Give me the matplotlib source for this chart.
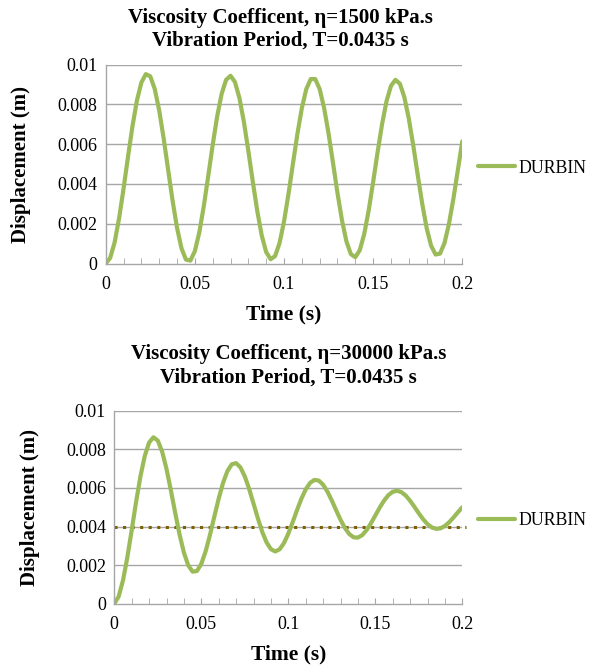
import numpy as np
import matplotlib
matplotlib.use("Agg")
import matplotlib.pyplot as plt

plt.rcParams['font.family'] = ['Liberation Serif', 'DejaVu Serif']

# sample times (s), one value every 0.0025 s
time_s = np.round(np.arange(81) * 0.0025, 4)

# eta = 1500 kPa.s  (m)
disp_1500 = [
    0.0, 0.000276, 0.001063, 0.002269, 0.003758, 0.005361, 0.006897, 0.008193, 0.009103, 0.009526,
    0.009414, 0.008782, 0.007701, 0.006297, 0.004726, 0.003167, 0.001797, 0.000767, 0.000197, 0.000146,
    0.000621, 0.001567, 0.002875, 0.004397, 0.005961, 0.007390, 0.008524, 0.009235, 0.009444, 0.009128,
    0.008324, 0.007125, 0.005667, 0.004113, 0.002642, 0.001415, 0.000576, 0.000215, 0.000372, 0.001028,
    0.002108, 0.003489, 0.005015, 0.006513, 0.007814, 0.008772, 0.009279, 0.009280, 0.008775, 0.007822,
    0.006532, 0.005049, 0.003541, 0.002179, 0.001115, 0.000471, 0.000317, 0.000669, 0.001486, 0.002675,
    0.004101, 0.005602, 0.007009, 0.008164, 0.008936, 0.009239, 0.009041, 0.008364, 0.007288, 0.005933,
    0.004453, 0.003017, 0.001785, 0.000896, 0.000451, 0.000497, 0.001028, 0.001984, 0.003255, 0.004697,
    0.006147,
]

# eta = 30000 kPa.s
disp_30000 = [
    0.0, 0.000370, 0.001210, 0.002407, 0.003812, 0.005259, 0.006588, 0.007654, 0.008353, 0.008622,
    0.008450, 0.007877, 0.006983, 0.005882, 0.004706, 0.003587, 0.002648, 0.001985, 0.001660, 0.001693,
    0.002064, 0.002718, 0.003570, 0.004516, 0.005447, 0.006261, 0.006872, 0.007222, 0.007283, 0.007062,
    0.006594, 0.005944, 0.005192, 0.004425, 0.003729, 0.003178, 0.002827, 0.002706, 0.002818, 0.003141,
    0.003629, 0.004221, 0.004847, 0.005435, 0.005922, 0.006259, 0.006414, 0.006380, 0.006166, 0.005807,
    0.005347, 0.004843, 0.004351, 0.003927, 0.003614, 0.003441, 0.003424, 0.003555, 0.003813, 0.004166,
    0.004569, 0.004975, 0.005339, 0.005623, 0.005799, 0.005851, 0.005781, 0.005600, 0.005334, 0.005016,
    0.004683, 0.004374, 0.004122, 0.003951, 0.003878, 0.003906, 0.004027, 0.004224, 0.004472, 0.004741,
    0.005000,
]

static_disp = 0.004

titles = ["Viscosity Coefficent, \u03b7=1500 kPa.s\nVibration Period, T=0.0435 s",
          "Viscosity Coefficent, \u03b7=30000 kPa.s\nVibration Period, T=0.0435 s"]
x_ticks = [0, 0.05, 0.1, 0.15, 0.2]
x_tick_labels = ["0", "0.05", "0.1", "0.15", "0.2"]
y_ticks = [0, 0.002, 0.004, 0.006, 0.008, 0.01]
y_tick_labels = ["0", "0.002", "0.004", "0.006", "0.008", "0.01"]

green = "#9BBB59"
grid = "#A6A6A6"

fig = plt.figure(figsize=(5.93, 6.67), dpi=100)
ax1 = fig.add_axes([105.7/593, 1-263.5/667, (462.3-105.7)/593, (263.5-64.7)/667])
ax2 = fig.add_axes([114.3/593, 1-603.7/667, (462.3-114.3)/593, (603.7-410.7)/667])

# title x / pad, legend x / y anchor for each panel
setups = [(ax1, disp_1500, titles[0], 0.49, 13.5, 1.044, 0.48),
          (ax2, disp_30000, titles[1], 0.5, 20.5, 1.045, 0.43)]

for ax, y, title, tx, tpad, lx, ly in setups:
    ax.plot(time_s, y, color=green, lw=3, label="DURBIN",
            solid_capstyle="round", solid_joinstyle="round")
    ax.set_xlim(0, 0.2)
    ax.set_ylim(0, 0.01)
    ax.set_xticks(x_ticks)
    ax.set_xticklabels(x_tick_labels)
    ax.set_xticks(np.arange(0, 0.2001, 0.01), minor=True)
    ax.set_yticks(y_ticks)
    ax.set_yticklabels(y_tick_labels)
    ax.tick_params(axis='x', which='both', direction='in', length=4, color=grid, labelsize=13, pad=9)
    ax.tick_params(axis='y', length=0, labelsize=13, pad=6)
    for yy in y_ticks[1:]:
        ax.axhline(yy, color=grid, lw=1.0, zorder=0)
    for s in ['top', 'right']:
        ax.spines[s].set_visible(False)
    for s in ['left', 'bottom']:
        ax.spines[s].set_color(grid)
        ax.spines[s].set_linewidth(1.0)
    ax.set_xlabel("Time (s)", fontsize=15.5, fontweight='bold', labelpad=8)
    ax.set_ylabel("Displacement (m)", fontsize=15, fontweight='bold', labelpad=19)
    ax.set_title(title, fontsize=15, fontweight='bold', x=tx, pad=tpad, linespacing=1.2)
    ax.legend(loc='center left', bbox_to_anchor=(lx, ly), frameon=False,
              fontsize=12.8, handlelength=2.1, handletextpad=0.2,
              borderpad=0, borderaxespad=0)

ax2.axhline(static_disp, xmax=1.01, color="#7F6000", lw=2.2, ls=(0, (1, 1.8)),
            clip_on=False, zorder=1)

fig.savefig("out.png", dpi=100)
